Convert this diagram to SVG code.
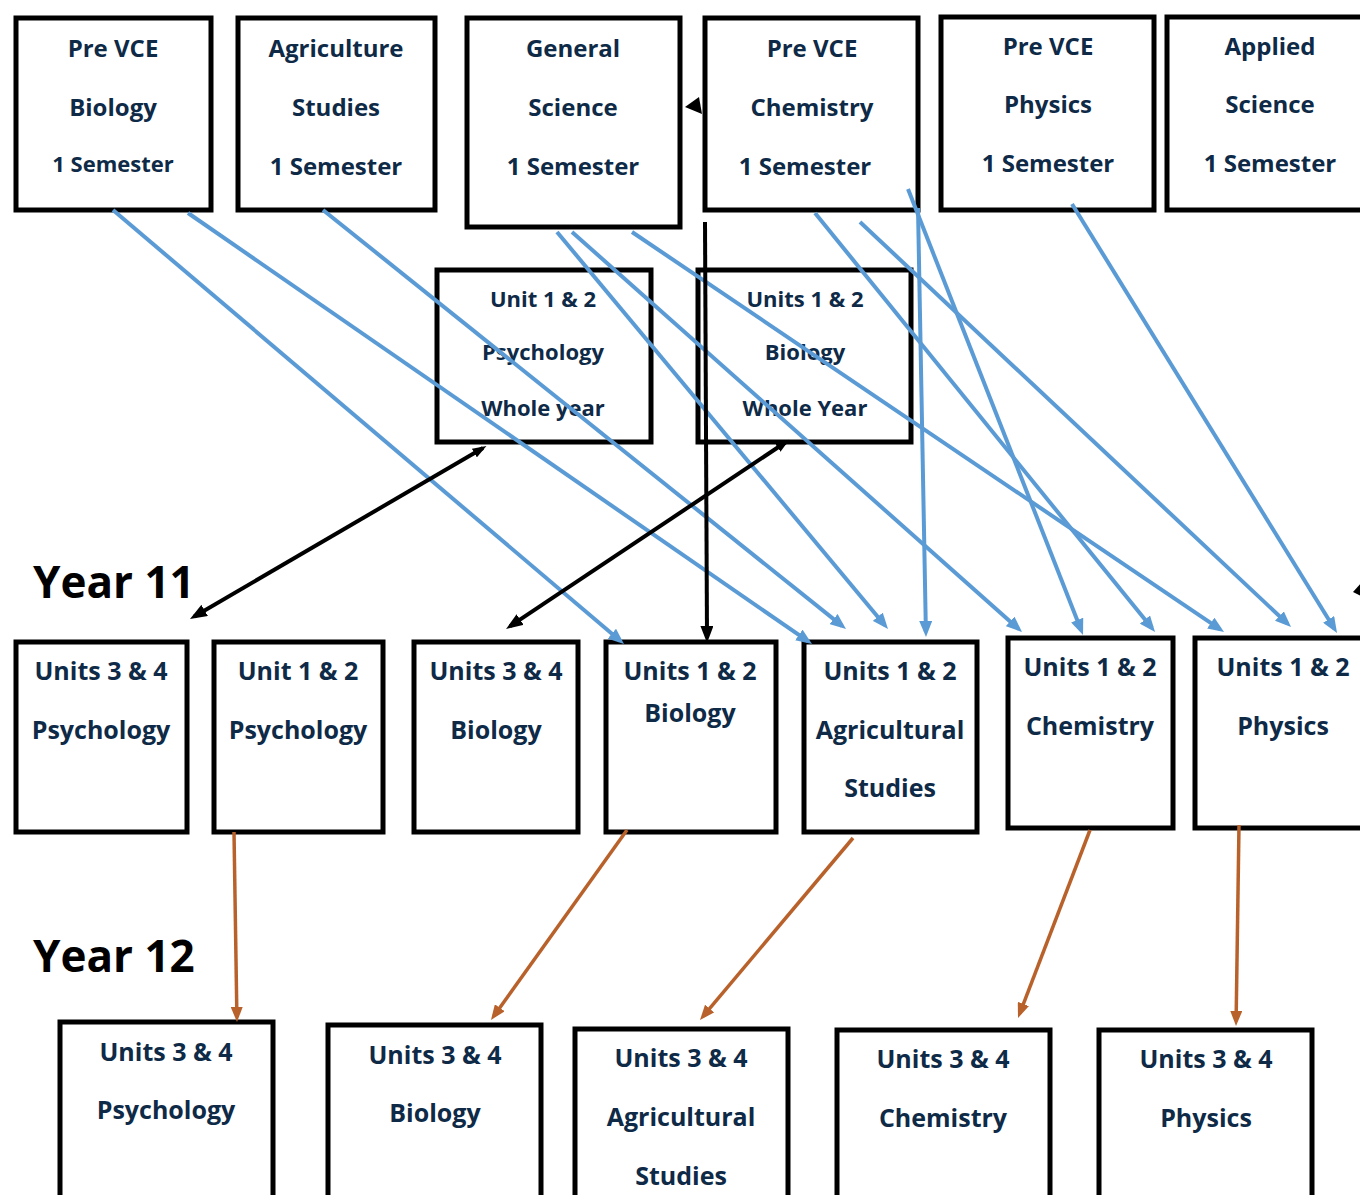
<svg xmlns="http://www.w3.org/2000/svg" width="1360" height="1195" viewBox="0 0 1360 1195">
<style>
.box{fill:#ffffff;stroke:#000000;stroke-width:5}
.t{font-family:"Open Sans","Liberation Sans",sans-serif;font-weight:700;fill:#0e2a47;text-anchor:middle}
.t24{font-size:24px}
.t22{font-size:22px}
.t25{font-size:25px}
.yr{font-family:"Open Sans","Liberation Sans",sans-serif;font-weight:700;font-size:44px;fill:#000000}
.blue{stroke:#5b9bd5;stroke-width:4;fill:none;marker-end:url(#ab)}
.black{stroke:#000000;stroke-width:4;fill:none;marker-end:url(#ak)}
.orange{stroke:#b8612a;stroke-width:3.5;fill:none;marker-end:url(#ao)}
</style>
<defs>
<marker id="ab" markerUnits="userSpaceOnUse" viewBox="0 0 16 13" markerWidth="16" markerHeight="13" refX="11" refY="6.5" orient="auto"><path d="M0,0 L16,6.5 L0,13 z" fill="#5b9bd5"/></marker>
<marker id="ak" markerUnits="userSpaceOnUse" viewBox="0 0 17 13" markerWidth="17" markerHeight="13" refX="12" refY="6.5" orient="auto"><path d="M0,0 L17,6.5 L0,13 z" fill="#000000"/></marker>
<marker id="aks" markerUnits="userSpaceOnUse" viewBox="0 0 14 10" markerWidth="14" markerHeight="10" refX="10" refY="5" orient="auto-start-reverse"><path d="M0,0 L14,5 L0,10 z" fill="#000000"/></marker>
<marker id="ao" markerUnits="userSpaceOnUse" viewBox="0 0 15 12" markerWidth="15" markerHeight="12" refX="10" refY="6" orient="auto"><path d="M0,0 L15,6 L0,12 z" fill="#b8612a"/></marker>
</defs>

<g id="labels">
<text class="yr" x="33" y="598">Year 11</text>
<text class="yr" x="33" y="972">Year 12</text>
</g>

<g id="pre-vce-biology"><rect class="box" x="16" y="18" width="195" height="192"/>
<text class="t t24" x="113" y="57">Pre VCE</text><text class="t t24" x="113" y="116">Biology</text><text class="t t22" x="113" y="172">1 Semester</text></g>
<g id="agriculture-studies"><rect class="box" x="238" y="18" width="197" height="192"/>
<text class="t t24" x="336" y="57">Agriculture</text><text class="t t24" x="336" y="116">Studies</text><text class="t t24" x="336" y="175">1 Semester</text></g>
<g id="general-science"><rect class="box" x="467" y="18" width="213" height="209"/>
<text class="t t24" x="573" y="57">General</text><text class="t t24" x="573" y="116">Science</text><text class="t t24" x="573" y="175">1 Semester</text></g>
<g id="pre-vce-chemistry"><rect class="box" x="705" y="18" width="213" height="192"/>
<text class="t t24" x="812" y="57">Pre VCE</text><text class="t t24" x="812" y="116">Chemistry</text><text class="t t24" x="805" y="175">1 Semester</text></g>
<g id="pre-vce-physics"><rect class="box" x="941" y="17" width="213" height="193"/>
<text class="t t24" x="1048" y="55">Pre VCE</text><text class="t t24" x="1048" y="113">Physics</text><text class="t t24" x="1048" y="172">1 Semester</text></g>
<g id="applied-science"><rect class="box" x="1167" y="17" width="220" height="193"/>
<text class="t t24" x="1270" y="55">Applied</text><text class="t t24" x="1270" y="113">Science</text><text class="t t24" x="1270" y="172">1 Semester</text></g>

<g id="unit12-psychology-whole-year"><rect class="box" x="437" y="270" width="214" height="172"/>
<text class="t t22" x="543" y="307">Unit 1 &amp; 2</text><text class="t t22" x="543" y="360">Psychology</text><text class="t t22" x="543" y="416">Whole year</text></g>
<g id="units12-biology-whole-year"><rect class="box" x="698" y="270" width="213" height="172"/>
<text class="t t22" x="805" y="307">Units 1 &amp; 2</text><text class="t t22" x="805" y="360">Biology</text><text class="t t22" x="805" y="416">Whole Year</text></g>

<g id="y11-units34-psychology"><rect class="box" x="16" y="642" width="171" height="190"/>
<text class="t t25" x="101" y="680">Units 3 &amp; 4</text><text class="t t25" x="101" y="739">Psychology</text></g>
<g id="y11-unit12-psychology"><rect class="box" x="214" y="642" width="169" height="190"/>
<text class="t t25" x="298" y="680">Unit 1 &amp; 2</text><text class="t t25" x="298" y="739">Psychology</text></g>
<g id="y11-units34-biology"><rect class="box" x="414" y="642" width="164" height="190"/>
<text class="t t25" x="496" y="680">Units 3 &amp; 4</text><text class="t t25" x="496" y="739">Biology</text></g>
<g id="y11-units12-biology"><rect class="box" x="606" y="642" width="170" height="190"/>
<text class="t t25" x="690" y="680">Units 1 &amp; 2</text><text class="t t25" x="690" y="722">Biology</text></g>
<g id="y11-units12-agricultural-studies"><rect class="box" x="804" y="642" width="173" height="190"/>
<text class="t t25" x="890" y="680">Units 1 &amp; 2</text><text class="t t25" x="890" y="739">Agricultural</text><text class="t t25" x="890" y="797">Studies</text></g>
<g id="y11-units12-chemistry"><rect class="box" x="1008" y="638" width="165" height="190"/>
<text class="t t25" x="1090" y="676">Units 1 &amp; 2</text><text class="t t25" x="1090" y="735">Chemistry</text></g>
<g id="y11-units12-physics"><rect class="box" x="1195" y="638" width="190" height="190"/>
<text class="t t25" x="1283" y="676">Units 1 &amp; 2</text><text class="t t25" x="1283" y="735">Physics</text></g>

<g id="y12-units34-psychology"><rect class="box" x="60" y="1022" width="213" height="190"/>
<text class="t t25" x="166" y="1061">Units 3 &amp; 4</text><text class="t t25" x="166" y="1119">Psychology</text></g>
<g id="y12-units34-biology"><rect class="box" x="328" y="1025" width="213" height="190"/>
<text class="t t25" x="435" y="1064">Units 3 &amp; 4</text><text class="t t25" x="435" y="1122">Biology</text></g>
<g id="y12-units34-agricultural-studies"><rect class="box" x="575" y="1029" width="213" height="190"/>
<text class="t t25" x="681" y="1067">Units 3 &amp; 4</text><text class="t t25" x="681" y="1126">Agricultural</text><text class="t t25" x="681" y="1185">Studies</text></g>
<g id="y12-units34-chemistry"><rect class="box" x="837" y="1030" width="213" height="190"/>
<text class="t t25" x="943" y="1068">Units 3 &amp; 4</text><text class="t t25" x="943" y="1127">Chemistry</text></g>
<g id="y12-units34-physics"><rect class="box" x="1099" y="1030" width="213" height="190"/>
<text class="t t25" x="1206" y="1068">Units 3 &amp; 4</text><text class="t t25" x="1206" y="1127">Physics</text></g>

<g id="connectors">
<line class="blue" x1="113" y1="210" x2="620.2" y2="640.8"/>
<line class="blue" x1="188" y1="213" x2="807.9" y2="641.2"/>
<line class="blue" x1="323" y1="210" x2="842.1" y2="625.9"/>
<line class="blue" x1="557" y1="232" x2="884.8" y2="625.2"/>
<line class="blue" x1="572" y1="232" x2="1018.3" y2="628.7"/>
<line class="blue" x1="632" y1="232" x2="1219.9" y2="629.2"/>
<line class="blue" x1="918" y1="208" x2="925.9" y2="632"/>
<line class="blue" x1="908" y1="189" x2="1081.2" y2="630.3"/>
<line class="blue" x1="815" y1="213" x2="1151.9" y2="628.1"/>
<line class="blue" x1="860" y1="222" x2="1287.4" y2="623.6"/>
<line class="blue" x1="1072" y1="204" x2="1334.4" y2="628.7"/>

<line class="black" x1="483" y1="448" x2="194.3" y2="616.5" marker-start="url(#aks)"/>
<line class="black" x1="786" y1="442" x2="510.2" y2="626.2" marker-start="url(#aks)"/>
<line class="black" x1="705" y1="222" x2="707" y2="638"/>
<polygon points="685,107 699,97 702,114" fill="#000000"/>
<polygon points="1353,592 1362,582 1363,597" fill="#000000"/>

<line class="orange" x1="234" y1="832" x2="236.9" y2="1017"/>
<line class="orange" x1="627" y1="830" x2="493.9" y2="1015.9"/>
<line class="orange" x1="853" y1="838" x2="703.2" y2="1016.2"/>
<line class="orange" x1="1090" y1="830" x2="1019.8" y2="1013.3"/>
<line class="orange" x1="1239" y1="825" x2="1236.1" y2="1021"/>
</g>
</svg>
